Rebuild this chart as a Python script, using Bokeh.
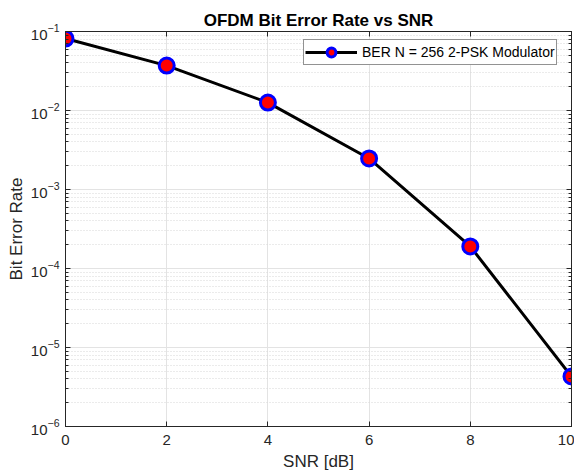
from bokeh.plotting import figure
from bokeh.models import (LogAxis, LinearAxis, FixedTicker,
                          Legend, LegendItem, Range1d)
from bokeh.embed import file_html
from bokeh.resources import INLINE

snr_db = [0, 2, 4, 6, 8, 10]
ber = [0.0815, 0.037, 0.0126, 0.00247, 0.00019, 4.3e-6]
x_ticks = [0, 2, 4, 6, 8, 10]
y_ticks = [1e-6, 1e-5, 1e-4, 1e-3, 1e-2, 1e-1]
y_minor = [m * d for d in [1e-6, 1e-5, 1e-4, 1e-3, 1e-2] for m in range(2, 10)]
series_label = "BER N = 256 2-PSK Modulator"

AX = "#262626"
FONT = "Liberation Sans"

p = figure(width=574, height=473, y_axis_type="log",
           x_range=Range1d(0, 10), y_range=Range1d(1e-6, 1e-1),
           output_backend="svg", toolbar_location=None,
           min_border_left=65, min_border_right=3, min_border_top=31, min_border_bottom=47,
           background_fill_color="white", border_fill_color="white")

p.title.text = "OFDM Bit Error Rate vs SNR"
p.title.align = "center"
p.title.text_font = FONT
p.title.text_font_size = "17px"
p.title.text_font_style = "bold"
p.title.text_color = "black"
p.title.standoff = 3

xt = FixedTicker(ticks=x_ticks)
yt = FixedTicker(ticks=y_ticks, minor_ticks=y_minor)

def style_axis(ax):
    ax.axis_line_color = AX
    ax.axis_line_width = 1
    ax.major_tick_line_color = AX
    ax.minor_tick_line_color = AX
    ax.major_tick_in = 5
    ax.major_tick_out = 0
    ax.minor_tick_in = 3
    ax.minor_tick_out = 0
    ax.major_label_text_font = FONT
    ax.major_label_text_color = AX
    ax.major_label_text_font_size = "15px"
    ax.axis_label_text_font = FONT
    ax.axis_label_text_color = AX
    ax.axis_label_text_font_size = "17px"
    ax.axis_label_text_font_style = "normal"

xa = p.xaxis[0]
xa.ticker = xt
style_axis(xa)
xa.minor_tick_line_color = None
xa.axis_label = "SNR [dB]"
xa.major_label_standoff = 8
xa.axis_label_standoff = 4

ya = p.yaxis[0]
ya.ticker = yt
style_axis(ya)
ya.axis_label = "Bit Error Rate"
ya.major_label_standoff = 6
ya.axis_label_standoff = 2

top = LinearAxis(ticker=xt)
style_axis(top)
top.major_label_text_color = None
top.major_label_standoff = 0
top.major_label_text_font_size = "1px"
top.minor_tick_line_color = None
p.add_layout(top, "above")

right = LogAxis(ticker=yt)
style_axis(right)
right.major_label_text_color = None
right.major_label_standoff = 0
right.major_label_text_font_size = "1px"
p.add_layout(right, "right")

p.xgrid.ticker = xt
p.ygrid.ticker = yt
p.xgrid.grid_line_color = "#e3e3e3"
p.ygrid.grid_line_color = "#e3e3e3"
p.ygrid.minor_grid_line_color = "#d6d6d6"
p.ygrid.minor_grid_line_dash = "1 2"
p.outline_line_color = AX

line = p.line(snr_db, ber, line_color="black", line_width=3)
pts = p.scatter(snr_db, ber, size=15, fill_color="red", line_color="blue", line_width=3)

legend = Legend(items=[LegendItem(label=series_label, renderers=[line, pts])],
                location=(238, 361), margin=0, padding=1, spacing=0,
                label_text_font=FONT, label_text_font_size="14px", label_text_color="black",
                glyph_width=52, glyph_height=22, label_height=16, label_standoff=5,
                border_line_color=AX, border_line_width=1, background_fill_color="white",
                background_fill_alpha=1)
p.add_layout(legend, "center")

open("out.html", "w").write(file_html(p, INLINE))
